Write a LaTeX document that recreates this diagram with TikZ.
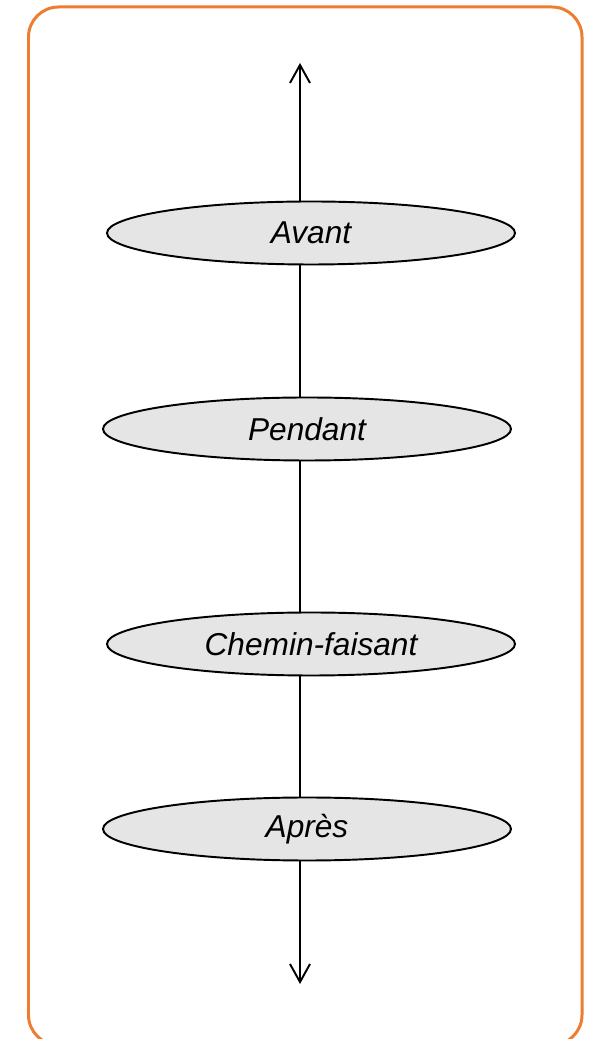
\documentclass[tikz,border=0pt]{standalone}
\usepackage{fontspec}
\setmainfont{Liberation Sans}
\usetikzlibrary{shapes.geometric,arrows.meta}
\definecolor{cadre}{HTML}{ED7D31}
\begin{document}
\begin{tikzpicture}[
  phase/.style={ellipse, draw=black, line width=1.1pt, fill=gray!20,
    minimum width=8.16cm, minimum height=1.26cm, inner sep=0pt,
    font=\fontsize{18}{20}\selectfont\itshape}
]
\useasboundingbox (0,0) rectangle (11.86,20.78);
\clip (0,0) rectangle (11.86,20.78);

\draw[color=cadre, line width=1.7pt, rounded corners=0.6cm] (0.57,-0.12) rectangle (11.64,20.64);

\coordinate (haut) at (6,19.52);
\coordinate (bas) at (6,1.1);

\draw[line width=1.1pt, {Straight Barb[length=3.6mm,width=4mm]}-{Straight Barb[length=3.6mm,width=4mm]}] (bas) -- (haut);

\node[phase] (avant) at (6.22,16.12) {Avant};

\node[phase] (pendant) at (6.14,12.2) {Pendant};

\node[phase] (chemin) at (6.22,7.9) {Chemin-faisant};

\node[phase] (apres) at (6.14,4.2) {Après};

\end{tikzpicture}
\end{document}
